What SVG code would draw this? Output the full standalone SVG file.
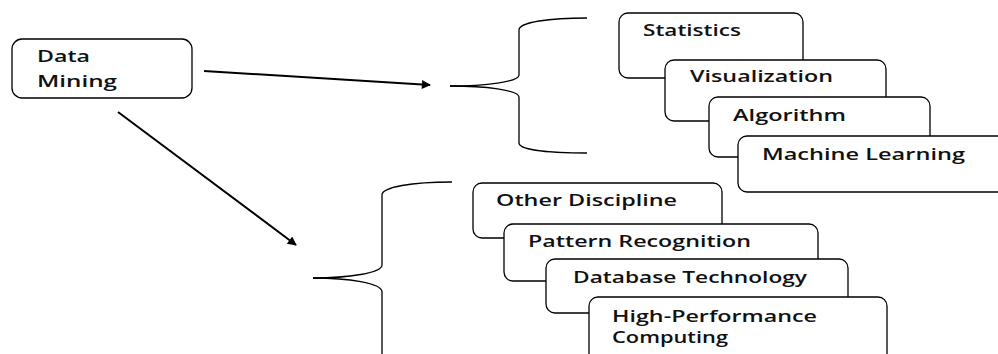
<svg xmlns="http://www.w3.org/2000/svg" width="998" height="354" viewBox="0 0 998 354">
<style>
.box{fill:#fff;stroke:#000;stroke-width:1.3}
.t{font-family:"Open Sans","DejaVu Sans",sans-serif;font-size:15.5px;font-weight:600;fill:#111}
.br{fill:none;stroke:#000;stroke-width:1.3}
.ar{fill:none;stroke:#000;stroke-width:2}
</style>
<defs>
<marker id="ah" viewBox="0 0 10 10" refX="9" refY="5" markerWidth="15" markerHeight="9" markerUnits="userSpaceOnUse" orient="auto">
<path d="M0,0 L10,5 L0,10 z" fill="#000"/>
</marker>
</defs>
<rect width="998" height="354" fill="#fff"/>
<g id="data-mining">
<rect class="box" x="12" y="39" width="180" height="59" rx="10"/>
<text class="t" x="37" y="62" textLength="53" lengthAdjust="spacingAndGlyphs">Data</text>
<text class="t" x="37" y="87" textLength="80" lengthAdjust="spacingAndGlyphs">Mining</text>
</g>
<g id="connectors">
<line class="ar" x1="204" y1="71" x2="430" y2="85" marker-end="url(#ah)"/>
<line class="ar" x1="118" y1="112" x2="296" y2="245" marker-end="url(#ah)"/>
<path class="br" d="M450 86 C485 86 519 82 519 75 L519 30 C519 22 550 18 587 18"/>
<path class="br" d="M450 86 C485 86 519 90 519 97 L519 143 C519 150 550 153 587 153"/>
<path class="br" d="M313 278 C348 278 382 273 382 265 L382 195 C382 187 412 182 452 182"/>
<path class="br" d="M313 278 C348 278 382 283 382 292 L382 354"/>
</g>
<g id="statistics">
<rect class="box" x="619" y="13" width="184" height="65" rx="9"/>
<text class="t" x="643" y="36" textLength="98" lengthAdjust="spacingAndGlyphs">Statistics</text>
</g>
<g id="visualization">
<rect class="box" x="665" y="60" width="221" height="61" rx="9"/>
<text class="t" x="690" y="82" textLength="143" lengthAdjust="spacingAndGlyphs">Visualization</text>
</g>
<g id="algorithm">
<rect class="box" x="709" y="97" width="221" height="60" rx="9"/>
<text class="t" x="733" y="121" textLength="113" lengthAdjust="spacingAndGlyphs">Algorithm</text>
</g>
<g id="machine-learning">
<rect class="box" x="738" y="136" width="275" height="56" rx="9"/>
<text class="t" x="762" y="160" textLength="203" lengthAdjust="spacingAndGlyphs">Machine Learning</text>
</g>
<g id="other-discipline">
<rect class="box" x="473" y="183" width="249" height="55" rx="9"/>
<text class="t" x="496" y="206" textLength="181" lengthAdjust="spacingAndGlyphs">Other Discipline</text>
</g>
<g id="pattern-recognition">
<rect class="box" x="504" y="224" width="314" height="57" rx="9"/>
<text class="t" x="528" y="247" textLength="223" lengthAdjust="spacingAndGlyphs">Pattern Recognition</text>
</g>
<g id="database-technology">
<rect class="box" x="546" y="259" width="302" height="54" rx="9"/>
<text class="t" x="573" y="283" textLength="234" lengthAdjust="spacingAndGlyphs">Database Technology</text>
</g>
<g id="high-performance-computing">
<rect class="box" x="589" y="297" width="298" height="80" rx="9"/>
<text class="t" x="612" y="322" textLength="205" lengthAdjust="spacingAndGlyphs">High-Performance</text>
<text class="t" x="612" y="343" textLength="116" lengthAdjust="spacingAndGlyphs">Computing</text>
</g>
</svg>
